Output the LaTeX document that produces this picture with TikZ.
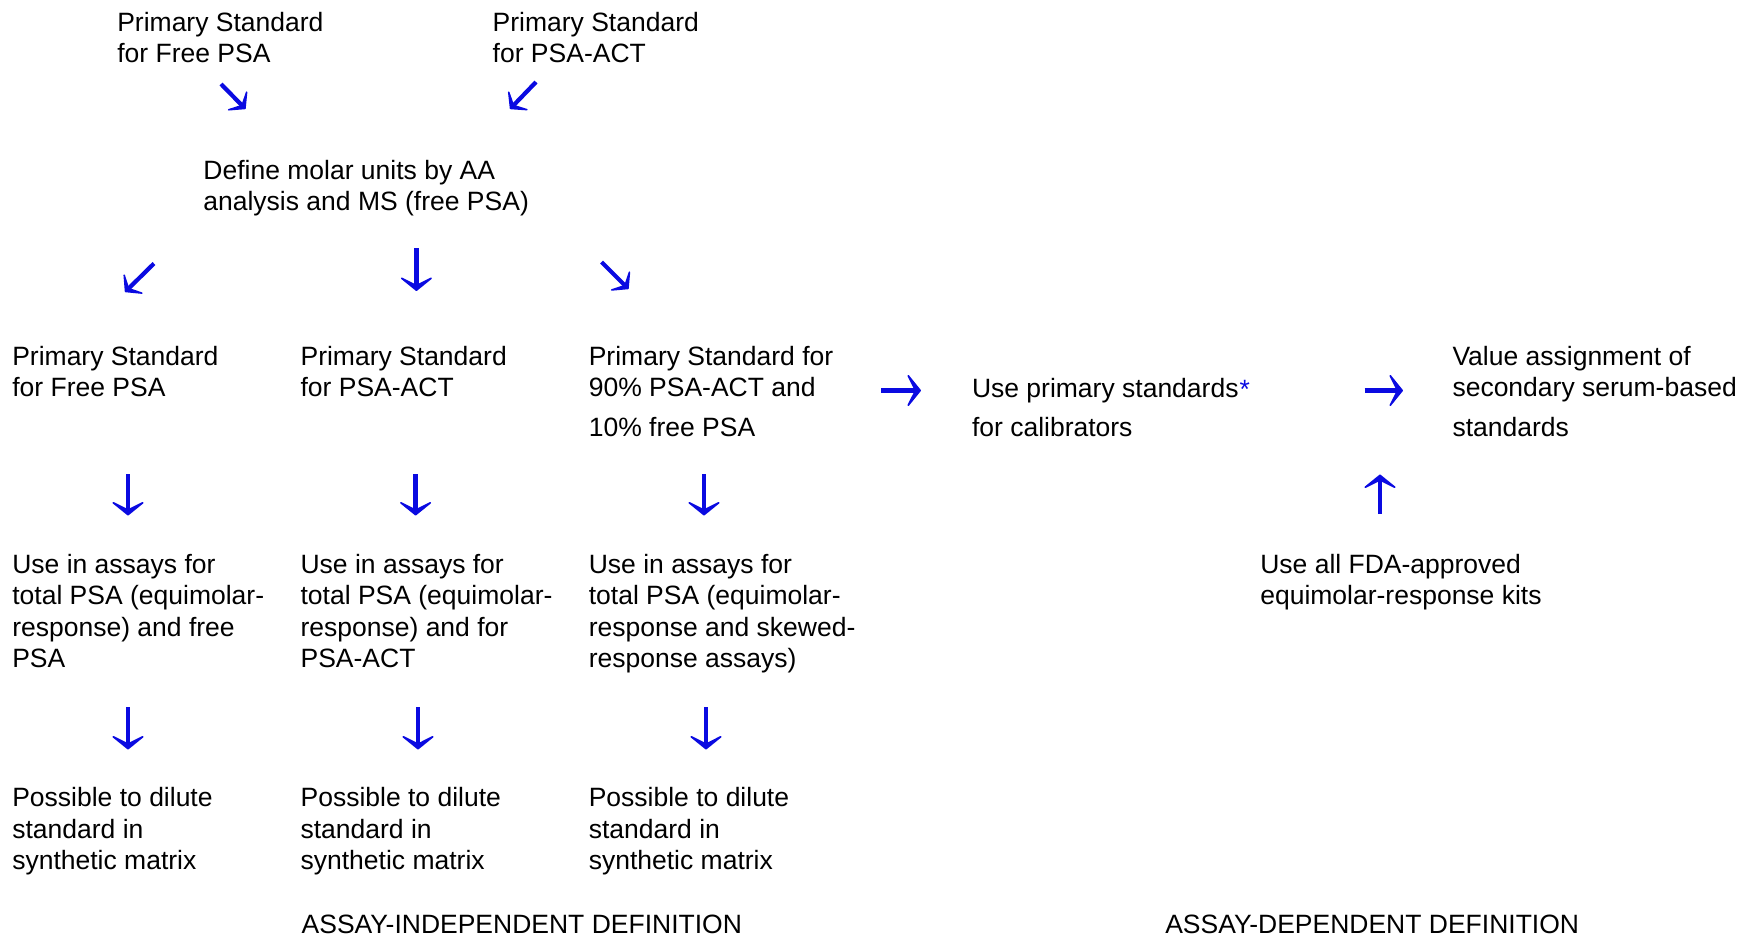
\documentclass[tikz,border=0pt]{standalone}
\usepackage{fontspec}
\setmainfont{Liberation Sans}
\usetikzlibrary{arrows.meta}
\definecolor{arrowblue}{RGB}{10,10,225}
\begin{document}
\begin{tikzpicture}[x=1pt,y=-1pt,
  txt/.style={anchor=north west,inner sep=0pt,outer sep=0pt,align=left,
    font=\fontsize{26.5}{31.3}\selectfont},
  blarrow/.style={draw=arrowblue,line width=4.4pt,
    -{Stealth[length=17pt,width=42pt,inset=10.5pt,round]}},
  diarrow/.style={draw=arrowblue,line width=4.2pt,
    -{Stealth[length=15pt,width=36pt,inset=9pt,round]}}]
\useasboundingbox (0,0) rectangle (1752,938);

% text nodes
\node[txt] (ps1) at (117.3,12.3) {Primary Standard\\for Free PSA};
\node[txt] (ps2) at (492.7,12.3) {Primary Standard\\for PSA-ACT};
\node[txt] (def) at (203.4,159.8) {Define molar units by AA\\analysis and MS (free PSA)};

\node[txt] (fr) at (12.3,346.4) {Primary Standard\\for Free PSA};
\node[txt] (act) at (300.6,346.4) {Primary Standard\\for PSA-ACT};
\node[txt] (mix) at (588.8,346.4) {Primary Standard for\\90\% PSA-ACT and\\[7.8pt]10\% free PSA};
\node[txt] (cal) at (972,378) {Use primary standards\kern1pt{\color{arrowblue}\raisebox{-0.05em}{*}}\\[7.8pt]for calibrators};
\node[txt] (val) at (1452.5,346.4) {Value assignment of\\secondary serum-based\\[7.8pt]standards};
\node[txt] (fda) at (1260.3,554.2) {Use all FDA-approved\\equimolar-response kits};

\node[txt] (u1) at (12.3,554.2) {Use in assays for\\total PSA (equimolar-\\response) and free\\PSA};
\node[txt] (u2) at (300.6,554.2) {Use in assays for\\total PSA (equimolar-\\response) and for\\PSA-ACT};
\node[txt] (u3) at (588.8,554.2) {Use in assays for\\total PSA (equimolar-\\response and skewed-\\response assays)};

\node[txt] (d1) at (12.3,787.7) {Possible to dilute\\standard in\\synthetic matrix};
\node[txt] (d2) at (300.6,787.7) {Possible to dilute\\standard in\\synthetic matrix};
\node[txt] (d3) at (588.8,787.7) {Possible to dilute\\standard in\\synthetic matrix};

\node[txt] (indep) at (301.7,915.1) {ASSAY-INDEPENDENT DEFINITION};
\node[txt] (dep) at (1165.3,915.1) {ASSAY-DEPENDENT DEFINITION};

% arrow end coordinates
\coordinate (a1s) at (221,84);   \coordinate (a1e) at (245.5,109);
\coordinate (a2s) at (536,82);   \coordinate (a2e) at (510,109);
\coordinate (a3s) at (154,263.5); \coordinate (a3e) at (125,292);
\coordinate (a4s) at (416.4,248); \coordinate (a4e) at (416.4,291);
\coordinate (a5s) at (601.5,262); \coordinate (a5e) at (628.5,289);
\coordinate (a6s) at (881,390.5); \coordinate (a6e) at (921,390.5);
\coordinate (a7s) at (1364.5,390.5); \coordinate (a7e) at (1403,390.5);
\coordinate (a8s) at (1380,514); \coordinate (a8e) at (1380,474.5);
\coordinate (a9s) at (128,474);  \coordinate (a9e) at (128,515.5);
\coordinate (a10s) at (415.6,474); \coordinate (a10e) at (415.6,515.5);
\coordinate (a11s) at (704,474); \coordinate (a11e) at (704,515.5);
\coordinate (a12s) at (128,707); \coordinate (a12e) at (128,749.5);
\coordinate (a13s) at (418,707); \coordinate (a13e) at (418,749.5);
\coordinate (a14s) at (706,707); \coordinate (a14e) at (706,749.5);

\draw[diarrow] (a1s) -- (a1e);
\draw[diarrow] (a2s) -- (a2e);
\draw[diarrow] (a3s) -- (a3e);
\draw[blarrow] (a4s) -- (a4e);
\draw[diarrow] (a5s) -- (a5e);
\draw[blarrow] (a6s) -- (a6e);
\draw[blarrow] (a7s) -- (a7e);
\draw[blarrow] (a8s) -- (a8e);
\draw[blarrow] (a9s) -- (a9e);
\draw[blarrow] (a10s) -- (a10e);
\draw[blarrow] (a11s) -- (a11e);
\draw[blarrow] (a12s) -- (a12e);
\draw[blarrow] (a13s) -- (a13e);
\draw[blarrow] (a14s) -- (a14e);
\end{tikzpicture}
\end{document}
